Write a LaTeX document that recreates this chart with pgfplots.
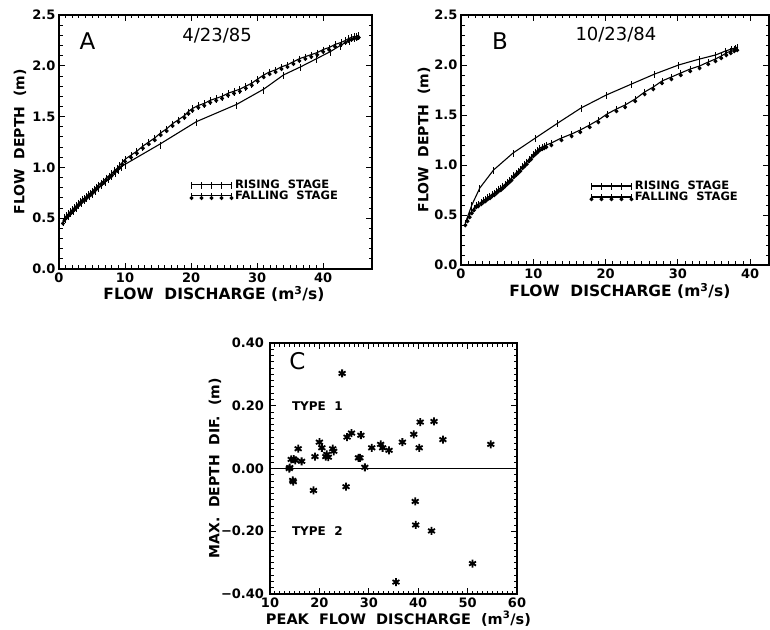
\documentclass[border=0pt]{standalone}
\usepackage{pgfplots}
\pgfplotsset{compat=1.18}
\usepackage{fontspec}
\setmainfont{DejaVu Sans}

\pgfdeclareplotmark{rise}{%
  \pgfpathmoveto{\pgfqpoint{0pt}{2.5pt}}%
  \pgfpathlineto{\pgfqpoint{0pt}{-4.5pt}}%
  \pgfusepathqstroke}
\pgfdeclareplotmark{fall}{%
  \pgfpathmoveto{\pgfqpoint{0pt}{3pt}}%
  \pgfpathlineto{\pgfqpoint{0pt}{-4.5pt}}%
  \pgfusepathqstroke
  \pgfpathmoveto{\pgfqpoint{0pt}{-0.6pt}}%
  \pgfpathlineto{\pgfqpoint{1.5pt}{-2.2pt}}%
  \pgfpathlineto{\pgfqpoint{0pt}{-3.8pt}}%
  \pgfpathlineto{\pgfqpoint{-1.5pt}{-2.2pt}}%
  \pgfpathclose
  \pgfusepathqfillstroke}

\newcommand{\ticklabfont}{\bfseries\fontsize{13}{15}\selectfont}
\pgfplotsset{
  base/.style={
    scale only axis,
    axis line style={line width=1.2pt},
    every tick/.style={black, line width=0.9pt},
    major tick length=6pt, minor tick length=3.5pt,
    every tick label/.append style={font=\ticklabfont},
    label style={font=\bfseries\fontsize{14}{16}\selectfont},
    ylabel style={anchor=center},
    xlabel style={anchor=center, font=\bfseries\fontsize{15.5}{17}\selectfont},
    clip=false,
  },
  hyst/.style={
    base,
    xmin=0, ymin=0, ymax=2.5,
    xtick={0,10,20,30,40}, minor x tick num=9,
    xticklabels={\textbf{0},\textbf{10},\textbf{20},\textbf{30},\textbf{40}},
    ytick={0,0.5,1,1.5,2,2.5}, minor y tick num=4,
    yticklabels={\textbf{0.0},\textbf{0.5},\textbf{1.0},\textbf{1.5},\textbf{2.0},\textbf{2.5}},
    xlabel={FLOW\ \ DISCHARGE\ (m\textsuperscript{3}/s)},
    ylabel={FLOW\ \ DEPTH\ \ (m)},
    legend style={draw=none, fill=none, font=\bfseries\fontsize{11.5}{12}\selectfont,
      anchor=north west, row sep=-3pt, inner sep=0pt,
      legend cell align=left},
    legend image code/.code={\draw[#1] plot coordinates {(0pt,0pt) (10pt,0pt) (20pt,0pt) (30pt,0pt) (40pt,0pt)};},
  },
  risest/.style={black, line width=1.1pt, mark=rise, mark options={line width=0.9pt}},
  fallst/.style={black, line width=1.1pt, mark=fall, mark options={line width=0.9pt}},
}

\begin{document}
\begin{tikzpicture}
\path[use as bounding box] (0pt,0pt) rectangle (770pt,629pt);

% ---------------- Panel A ----------------
\begin{axis}[hyst, at={(59pt,360pt)}, anchor=south west,
  width=313pt, height=254pt, xmax=47.4,
  xlabel style={at={(axis description cs:0.495,-0.097)}},
  ylabel style={at={(axis description cs:-0.125,0.5)}},
  legend style={at={(axis description cs:0.418,0.36)}},
]
\addplot[risest] coordinates {
(0.6,0.47) (1.0,0.50) (1.4,0.53) (1.8,0.56) (2.2,0.58) (2.6,0.61) (3.0,0.63)
(3.4,0.65) (3.8,0.68) (4.2,0.70) (4.6,0.72) (5.0,0.74) (5.5,0.77) (6.0,0.80)
(6.5,0.83) (7.0,0.86) (7.5,0.89) (8.0,0.92) (8.5,0.95) (9.0,0.98) (9.5,1.01)
(10.0,1.03) (15.3,1.23) (20.8,1.45) (26.9,1.62) (31.0,1.77) (34.0,1.91)
(36.6,1.99) (39.0,2.07) (41.1,2.14) (42.6,2.20) (44.0,2.25) (44.8,2.28) (45.4,2.30)
};
\addlegendentry{RISING\ \ STAGE}
\addplot[fallst] coordinates {
(0.6,0.47) (0.9,0.51) (1.2,0.53) (1.5,0.55) (1.8,0.57) (2.1,0.59) (2.4,0.61)
(2.7,0.63) (3.0,0.65) (3.3,0.67) (3.6,0.69) (3.9,0.70) (4.2,0.72) (4.5,0.74)
(4.8,0.75) (5.1,0.77) (5.4,0.79) (5.7,0.81) (6.0,0.83) (6.4,0.85) (6.8,0.87)
(7.2,0.90) (7.6,0.92) (8.0,0.94) (8.4,0.97) (8.8,0.99) (9.2,1.02) (9.6,1.05)
(10.0,1.08) (10.9,1.12) (11.8,1.16) (12.7,1.21) (13.6,1.25) (14.5,1.29)
(15.4,1.34) (16.3,1.38) (17.2,1.43) (18.1,1.47) (19.0,1.51) (19.6,1.55)
(20.2,1.58) (21.1,1.61) (22.0,1.63) (22.9,1.66) (23.8,1.68) (24.7,1.70)
(25.6,1.73) (26.5,1.75) (27.4,1.77) (28.3,1.80) (29.2,1.83) (30.1,1.87)
(31.0,1.91) (31.9,1.94) (32.8,1.96) (33.7,1.99) (34.6,2.01) (35.5,2.04)
(36.4,2.07) (37.3,2.09) (38.2,2.11) (39.1,2.13) (40.0,2.16) (40.9,2.18)
(41.8,2.21) (42.7,2.23) (43.4,2.25) (43.9,2.27) (44.3,2.28) (44.7,2.29)
(45.1,2.29) (45.4,2.30)
};
\addlegendentry{FALLING\ \ STAGE}
\node[font=\fontsize{23}{24}\selectfont] at (rel axis cs:0.091,0.896) {A};
\node[font=\fontsize{18}{20}\selectfont] at (rel axis cs:0.505,0.917) {4/23/85};
\end{axis}

% ---------------- Panel B ----------------
\begin{axis}[hyst, at={(461pt,364pt)}, anchor=south west,
  width=308pt, height=250pt, xmax=42.6,
  xlabel style={at={(axis description cs:0.516,-0.105)}},
  ylabel style={at={(axis description cs:-0.12,0.5)}},
  legend style={at={(axis description cs:0.418,0.345)}},
]
\addplot[risest] coordinates {
(0.6,0.42) (1.5,0.60) (2.6,0.77) (4.5,0.95) (7.2,1.12) (10.3,1.27) (13.4,1.42)
(16.6,1.57) (20.1,1.70) (23.6,1.81) (26.8,1.91) (30.1,2.00) (33.0,2.06)
(35.2,2.10) (36.6,2.14) (37.4,2.16) (37.9,2.17) (38.3,2.18)
};
\addlegendentry{RISING\ \ STAGE}
\addplot[fallst] coordinates {
(0.6,0.42) (0.9,0.46) (1.2,0.50) (1.5,0.54) (1.8,0.57) (2.1,0.60) (2.4,0.61)
(2.8,0.63) (3.1,0.65) (3.4,0.66) (3.7,0.68) (4.0,0.69) (4.3,0.71) (4.6,0.72)
(4.9,0.74) (5.2,0.76) (5.5,0.77) (5.8,0.79) (6.1,0.81) (6.4,0.83) (6.7,0.85)
(7.0,0.87) (7.3,0.90) (7.6,0.92) (7.9,0.94) (8.2,0.96) (8.5,0.99) (8.8,1.01)
(9.1,1.03) (9.4,1.06) (9.7,1.08) (10.0,1.11) (10.3,1.13) (10.6,1.15)
(10.9,1.17) (11.2,1.18) (11.5,1.19) (11.8,1.20) (12.5,1.22) (13.9,1.27)
(15.3,1.31) (16.5,1.35) (17.8,1.40) (19.0,1.45) (20.2,1.51) (21.5,1.56)
(22.7,1.60) (24.1,1.66) (25.4,1.73) (26.6,1.78) (27.8,1.84) (29.1,1.88)
(30.4,1.92) (31.7,1.96) (33.0,1.99) (34.2,2.03) (35.2,2.06) (36.0,2.09)
(36.7,2.12) (37.3,2.14) (37.8,2.16) (38.2,2.17)
};
\addlegendentry{FALLING\ \ STAGE}
\node[font=\fontsize{23}{24}\selectfont] at (rel axis cs:0.127,0.894) {B};
\node[font=\fontsize{18}{20}\selectfont] at (rel axis cs:0.503,0.92) {10/23/84};
\end{axis}

% ---------------- Panel C ----------------
\begin{axis}[base, at={(270pt,35pt)}, anchor=south west,
  width=247pt, height=251pt,
  xmin=10, xmax=60, ymin=-0.4, ymax=0.4,
  xtick={10,20,30,40,50,60}, minor x tick num=9,
  xticklabels={\textbf{10},\textbf{20},\textbf{30},\textbf{40},\textbf{50},\textbf{60}},
  ytick={-0.4,-0.2,0,0.2,0.4}, minor y tick num=9,
  yticklabels={\textbf{−0.40},\textbf{−0.20},\textbf{0.00},\textbf{0.20},\textbf{0.40}},
  yticklabel style={xshift=-2.5pt},
  xlabel={PEAK\ \ FLOW\ \ DISCHARGE\ \ (m\textsuperscript{3}/s)},
  ylabel={MAX.\ \ DEPTH\ \ DIF.\ \ (m)},
  xlabel style={at={(axis description cs:0.52,-0.098)}, font=\bfseries\fontsize{14.5}{16}\selectfont},
  ylabel style={at={(axis description cs:-0.223,0.5)}},
]
\addplot[black, line width=1pt] coordinates {(10,0) (60,0)};
\addplot[only marks, mark=asterisk, mark size=4pt, mark options={line width=1.8pt, black}] coordinates {
(24.6,0.303) (15.7,0.063) (14.3,0.029) (14.8,0.030) (15.1,0.026) (16.4,0.023)
(13.9,0.000) (14.0,0.003) (14.6,-0.038) (14.7,-0.042) (19.1,0.038) (20.0,0.084)
(20.5,0.066) (21.5,0.045) (21.8,0.036) (21.3,0.038) (22.7,0.063) (22.9,0.055)
(18.8,-0.070) (25.4,-0.058) (25.6,0.100) (26.5,0.113) (28.4,0.106) (27.9,0.034)
(28.2,0.034) (29.2,0.004) (30.6,0.066) (32.4,0.077) (32.8,0.066) (34.1,0.058)
(36.8,0.084) (39.1,0.109) (40.4,0.148) (40.2,0.066) (43.2,0.150) (45.0,0.092)
(54.7,0.077) (39.4,-0.105) (39.5,-0.180) (42.7,-0.199) (51.0,-0.303) (35.5,-0.362)
};
\node[font=\fontsize{23}{24}\selectfont] at (rel axis cs:0.111,0.926) {C};
\node[anchor=west, font=\bfseries\fontsize{12}{14}\selectfont] at (rel axis cs:0.075,0.749) {TYPE\ \ 1};
\node[anchor=west, font=\bfseries\fontsize{12}{14}\selectfont] at (rel axis cs:0.075,0.249) {TYPE\ \ 2};
\end{axis}
\end{tikzpicture}
\end{document}
